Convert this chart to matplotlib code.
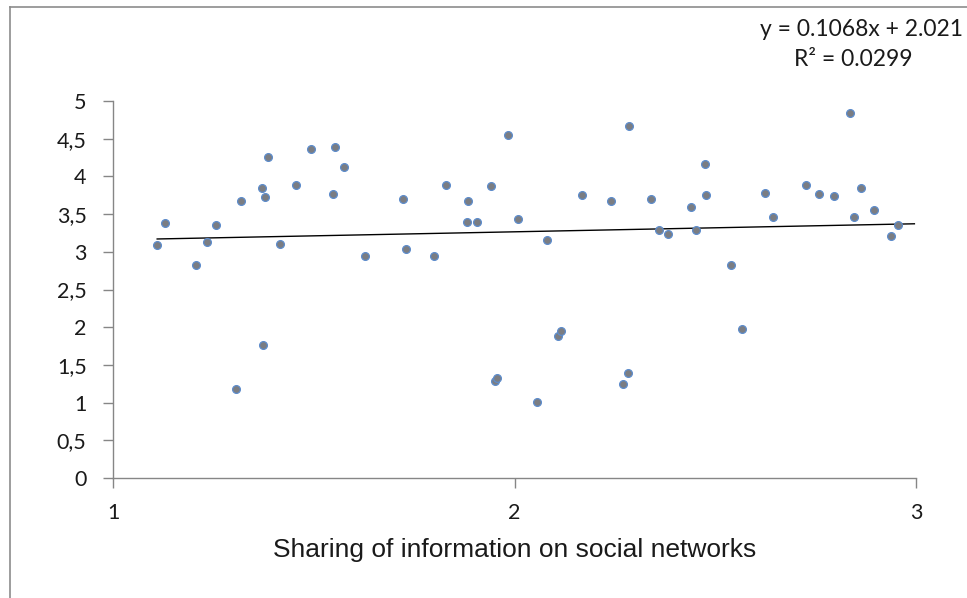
import numpy as np
import matplotlib
matplotlib.use("Agg")
import matplotlib.pyplot as plt
from matplotlib.lines import Line2D
from matplotlib.ticker import FuncFormatter

# Survey responses: sharing of information (x) vs. score (y)
sharing = [1.110, 1.130, 1.206, 1.235, 1.257, 1.307, 1.318, 1.372, 1.374, 1.378,
           1.385, 1.416, 1.455, 1.492, 1.547, 1.553, 1.575, 1.627, 1.722, 1.729,
           1.799, 1.830, 1.882, 1.885, 1.907, 1.942, 1.951, 1.956, 1.984, 2.009,
           2.057, 2.082, 2.108, 2.115, 2.168, 2.241, 2.271, 2.283, 2.286, 2.341,
           2.360, 2.382, 2.440, 2.452, 2.474, 2.478, 2.538, 2.567, 2.624, 2.643,
           2.726, 2.758, 2.797, 2.835, 2.845, 2.863, 2.895, 2.937, 2.956]
score = [3.09, 3.38, 2.83, 3.13, 3.35, 1.18, 3.68, 3.84, 1.76, 3.73,
         4.26, 3.11, 3.89, 4.36, 3.77, 4.39, 4.13, 2.95, 3.70, 3.04,
         2.95, 3.89, 3.40, 3.68, 3.40, 3.87, 1.29, 1.33, 4.55, 3.44,
         1.01, 3.15, 1.88, 1.95, 3.75, 3.68, 1.25, 1.39, 4.67, 3.70,
         3.29, 3.24, 3.60, 3.29, 4.16, 3.75, 2.83, 1.97, 3.78, 3.46,
         3.89, 3.77, 3.74, 4.84, 3.46, 3.84, 3.56, 3.21, 3.36]

x_label = "Sharing of information on social networks"
equation_text = "y = 0.1068x + 2.021"
r2_text = "R\u00b2 = 0.0299"
trend_slope = 0.1068
x_ticks = [1, 2, 3]
y_ticks = [0, 0.5, 1, 1.5, 2, 2.5, 3, 3.5, 4, 4.5, 5]
trend_end = 2.996

W, H = 967, 598
fig = plt.figure(figsize=(W / 100, H / 100), dpi=100)
fig.patch.set_facecolor("white")

# chart area border (left and top edges)
border = dict(transform=fig.transFigure, color="#8c8c8c", linewidth=1.2)
fig.lines.append(Line2D([9.5 / W, 9.5 / W], [0, 1 - 7 / H], **border))
fig.lines.append(Line2D([9.5 / W, 1], [1 - 7 / H, 1 - 7 / H], **border))

ax = fig.add_axes([113 / W, 1 - 478 / H, (916 - 113) / W, (478 - 101) / H])
ax.set_xlim(1, 3)
ax.set_ylim(0, 5)

x = np.array(sharing)
y = np.array(score)
ax.plot(x, y, linestyle="none", marker="o", markersize=5.6,
        markerfacecolor="#7b7d82", markeredgecolor="#5d8ccc",
        markeredgewidth=0.9, zorder=3, clip_on=False)

# linear trendline through the data centroid
intercept = y.mean() - trend_slope * x.mean()
tx = np.array([x.min(), trend_end])
ax.plot(tx, trend_slope * tx + intercept, color="black", linewidth=1.0, zorder=2)

for side in ("top", "right"):
    ax.spines[side].set_visible(False)
for side in ("left", "bottom"):
    ax.spines[side].set_color("#868686")
    ax.spines[side].set_linewidth(1.0)

ax.set_xticks(x_ticks)
ax.set_yticks(y_ticks)
ax.yaxis.set_major_formatter(FuncFormatter(lambda v, p: f"{v:g}".replace(".", ",")))
ax.tick_params(axis="both", direction="out", length=7, width=1.0,
               color="#868686", labelcolor="#1a1a1a", labelsize=15.5)
ax.tick_params(axis="y", pad=12)
ax.tick_params(axis="x", pad=11)
for lab in ax.get_xticklabels() + ax.get_yticklabels():
    lab.set_family("Lato")

ax.set_xlabel(x_label, fontsize=19, family="Liberation Sans", color="#1a1a1a",
              labelpad=11)

fig.text(760 / W, 1 - 30 / H, equation_text, fontsize=16.5, family="Lato",
         color="#1a1a1a", ha="left", va="center")
fig.text(853 / W, 1 - 59 / H, r2_text, fontsize=16.5, family="Lato",
         color="#1a1a1a", ha="center", va="center")

fig.savefig("out.png", dpi=100, facecolor="white")
